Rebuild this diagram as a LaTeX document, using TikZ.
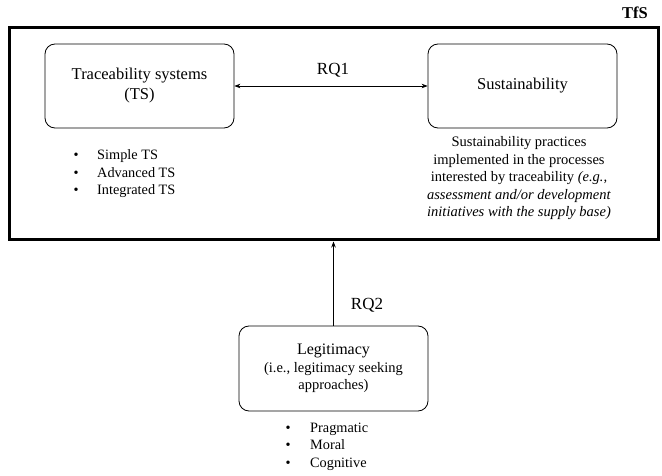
\documentclass[tikz,border=0pt]{standalone}
\usepackage{fontspec}
\setmainfont{Liberation Serif}
\usetikzlibrary{arrows.meta}
\begin{document}
\begin{tikzpicture}[x=1pt,y=-1pt,
  >={Stealth[length=6pt,width=4.5pt]},
  rbox/.style={draw,rounded corners=10pt,line width=0.8pt,align=center,inner sep=0pt},
  small/.style={font=\fontsize{14.5}{17.5}\selectfont},
  big/.style={font=\fontsize{16.5}{20}\selectfont},
  item/.style={font=\fontsize{14.3}{17.5}\selectfont,anchor=base west,inner sep=0pt},
  arr/.style={line width=0.7pt}]
\useasboundingbox (0,0) rectangle (662,476);
\node[draw,line width=3pt,minimum width=648.5pt,minimum height=212pt,inner sep=0pt] (outer) at (333.75,134) {};
\node[font=\bfseries\fontsize{16.5}{18}\selectfont,inner sep=0pt] (tfs) at (635,13) {TfS};
\node[rbox,big,minimum width=189pt,minimum height=84pt] (ts) at (139.5,86) {Traceability systems\\(TS)};
\node[rbox,big,minimum width=189pt,minimum height=84pt] (sus) at (522.5,86) {Sustainability};
\draw[arr,<->] (ts.east) -- (sus.west);
\node[font=\fontsize{17}{20}\selectfont,inner sep=0pt] (rq1) at (333,70) {RQ1};
\node[item] (ts1) at (73.5,160) {\textbullet};
\node[item] (ts1t) at (97,160) {Simple TS};
\node[item] (ts2) at (73.5,177.5) {\textbullet};
\node[item] (ts2t) at (97,177.5) {Advanced TS};
\node[item] (ts3) at (73.5,195) {\textbullet};
\node[item] (ts3t) at (97,195) {Integrated TS};
\node[small,align=center,anchor=north,inner sep=0pt] (sustext) at (519,136.5) {Sustainability practices\\implemented in the processes\\interested by traceability \textit{(e.g.,}\\\textit{assessment and/or development}\\\textit{initiatives with the supply base)}};
\node[rbox,small,minimum width=189pt,minimum height=85pt] (leg) at (333.5,368.5) {{\fontsize{16}{17.5}\selectfont Legitimacy}\\(i.e., legitimacy seeking\\approaches)};
\draw[arr,->] (leg.north) -- (leg.north |- outer.south);
\node[font=\fontsize{17}{20}\selectfont,inner sep=0pt] (rq2) at (367,305) {RQ2};
\node[item] (l1) at (285.5,432) {\textbullet};
\node[item] (l1t) at (310,432) {Pragmatic};
\node[item] (l2) at (285.5,449.5) {\textbullet};
\node[item] (l2t) at (310,449.5) {Moral};
\node[item] (l3) at (285.5,467) {\textbullet};
\node[item] (l3t) at (310,467) {Cognitive};
\end{tikzpicture}
\end{document}
